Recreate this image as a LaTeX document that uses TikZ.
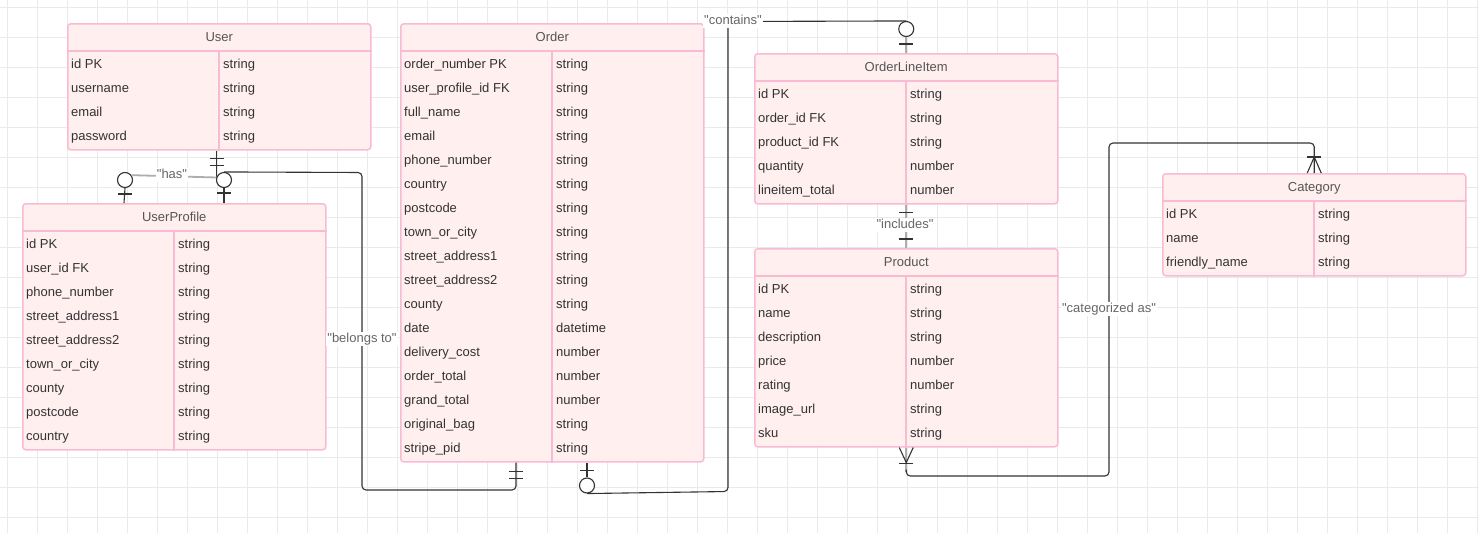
\documentclass[tikz,border=0pt]{standalone}
\usepackage{fontspec}
\setmainfont{Liberation Sans}
\usetikzlibrary{calc}

\definecolor{entityfill}{HTML}{FFEFEF}
\definecolor{entityline}{HTML}{F8BBD3}
\definecolor{gridgray}{HTML}{EAEAEA}
\definecolor{linkdark}{HTML}{333333}
\definecolor{linkgray}{HTML}{ADADAD}
\definecolor{labelgray}{HTML}{666666}
\definecolor{titlegray}{HTML}{555555}
\definecolor{fieldgray}{HTML}{333333}

\tikzset{
  entitybox/.style={draw=entityline, fill=entityfill, line width=1.5pt, rounded corners=3pt, minimum width=303pt, inner sep=0pt},
  divider/.style={draw=entityline, line width=1.2pt},
  fieldtext/.style={anchor=west, inner sep=0pt, text=fieldgray, font=\fontsize{13}{15}\selectfont, text height=9.5pt, text depth=3pt},
  titletext/.style={inner sep=0pt, text=titlegray, font=\fontsize{13}{15}\selectfont, text height=9.5pt, text depth=3pt},
  gridline/.style={draw=gridgray, line width=0.8pt},
  relline/.style={draw=linkdark, line width=1.1pt, rounded corners=4pt},
  graylink/.style={draw=linkgray, line width=1.8pt},
  endmark/.style={draw=linkdark, line width=1.1pt},
  ocircle/.style={circle, draw=linkdark, fill=white, line width=1.1pt, minimum size=15pt, inner sep=0pt},
  reltext/.style={fill=white, inner sep=1pt, text=labelgray, font=\fontsize{13}{15}\selectfont, text height=9.5pt, text depth=3pt}
}

% straight quotes round a relation label
\newcommand{\rellabel}[1]{\textquotedbl#1\textquotedbl}

% entity box: name, left, top, title, number of rows, rows field/type
\newcommand{\erentity}[6]{%
  \node[entitybox, minimum height={30+24*#5}, anchor=north west] (#1) at (#2,#3) {};
  \draw[divider] ($(#1.north west)+(0,28)$) -- ($(#1.north east)+(0,28)$);
  \draw[divider] ($(#1.north west)+(152,28)$) -- ($(#1.south west)+(152,0)$);
  \node[titletext] (#1-title) at ($(#1.north)+(0,15.5)$) {#4};
  \foreach \field/\type [count=\k] in {#6} {
    \node[fieldtext] (#1-\k) at ($(#1.north west)+(4,18+24*\k)$) {\field};
    \node[fieldtext] (#1-\k-type) at ($(#1.north west)+(156,18+24*\k)$) {\type};
  }
}

\begin{document}
\begin{tikzpicture}[x=1pt, y=-1pt]
  \useasboundingbox (0,0) rectangle (1478,533);
  \fill[white] (0,0) rectangle (1478,533);

  % background grid
  \foreach \gx in {7,37,...,1477} \draw[gridline] (\gx,0) -- (\gx,533);
  \foreach \gy in {7,37,...,527} \draw[gridline] (0,\gy) -- (1478,\gy);

  % entities
  \erentity{user}{67}{23}{User}{4}{id PK/string, username/string, email/string, password/string}
  \erentity{profile}{22}{203}{UserProfile}{9}{id PK/string, user\_id FK/string, phone\_number/string, street\_address1/string, street\_address2/string, town\_or\_city/string, county/string, postcode/string, country/string}
  \erentity{order}{400}{23}{Order}{17}{order\_number PK/string, user\_profile\_id FK/string, full\_name/string, email/string, phone\_number/string, country/string, postcode/string, town\_or\_city/string, street\_address1/string, street\_address2/string, county/string, date/datetime, delivery\_cost/number, order\_total/number, grand\_total/number, original\_bag/string, stripe\_pid/string}
  \erentity{item}{754}{53}{OrderLineItem}{5}{id PK/string, order\_id FK/string, product\_id FK/string, quantity/number, lineitem\_total/number}
  \erentity{product}{754}{248}{Product}{7}{id PK/string, name/string, description/string, price/number, rating/number, image\_url/string, sku/string}
  \erentity{category}{1162}{173}{Category}{3}{id PK/string, name/string, friendly\_name/string}

  % "has": User to UserProfile
  \coordinate (has-user) at ($(user.south)+(-2.5,0)$);
  \coordinate (has-profile) at ($(profile.north west)+(102,0)$);
  \node[ocircle] (has-o) at ($(has-profile)+(1,-23)$) {};
  \draw[relline] (has-user) -- ++(0,27) coordinate (has-bend);
  \draw[graylink] (has-bend) -- (has-o.37);
  \draw[relline] (has-o.south) -- (has-profile);
  \draw[endmark] ($(has-user)+(-7,8)$) -- ++(14,0);
  \draw[endmark] ($(has-user)+(-7,15)$) -- ++(14,0);
  \draw[endmark] ($(has-profile)+(-6,-9)$) -- ++(14,0);
  \node[reltext] (has-label) at (172,175) {\rellabel{has}};

  % "belongs to": UserProfile to Order
  \coordinate (belongs-profile) at ($(profile.north west)+(202,0)$);
  \coordinate (belongs-order) at ($(order.south west)+(116,0)$);
  \node[ocircle] (belongs-o) at ($(belongs-profile)+(0,-23)$) {};
  \draw[relline] (belongs-profile) -- (belongs-o.south);
  \draw[relline] (belongs-o.north) -- (362,172.5) -- (362,490) -| (belongs-order);
  \draw[endmark] ($(belongs-profile)+(-7,-10)$) -- ++(14,0);
  \draw[endmark] ($(belongs-order)+(-7,9)$) -- ++(14,0);
  \draw[endmark] ($(belongs-order)+(-7,16)$) -- ++(14,0);
  \node[reltext] (belongs-label) at (362,339) {\rellabel{belongs to}};

  % "contains": Order to OrderLineItem
  \coordinate (contains-order) at ($(order.south west)+(187,0)$);
  \coordinate (contains-item) at (item.north);
  \node[ocircle] (contains-o1) at ($(contains-order)+(0,23)$) {};
  \node[ocircle] (contains-o2) at ($(contains-item)+(0,-24)$) {};
  \draw[relline] (contains-order) -- (contains-o1.north);
  \draw[relline] (contains-o1.south) -- (728,491.5) -- (728,21.5) -- (contains-o2.north);
  \draw[graylink] (contains-o2.south) -- (contains-item);
  \draw[endmark] ($(contains-order)+(-7,8)$) -- ++(14,0);
  \draw[endmark] ($(contains-item)+(-7,-9)$) -- ++(14,0);
  \node[reltext] (contains-label) at (733,21) {\rellabel{contains}};

  % "includes": OrderLineItem to Product
  \draw[graylink] (item.south) -- (product.north);
  \draw[endmark] ($(item.south)+(-7,8)$) -- ++(14,0);
  \draw[endmark] ($(product.north)+(-7,-9)$) -- ++(14,0);
  \node[reltext] (includes-label) at (905,225) {\rellabel{includes}};

  % "categorized as": Product to Category
  \coordinate (cat-product) at (product.south);
  \coordinate (cat-category) at (category.north);
  \draw[graylink] (cat-product) -- ++(0,24);
  \draw[relline] ($(cat-product)+(0,22)$) |- (1109,476) -- (1109,143) -| (cat-category);
  \draw[endmark] ($(cat-product)+(-7,0)$) -- ($(cat-product)+(0,15)$) -- ($(cat-product)+(7,0)$);
  \draw[endmark] ($(cat-product)+(-7,16)$) -- ++(14,0);
  \draw[endmark] ($(cat-category)+(-7,0)$) -- ($(cat-category)+(0,-16)$) -- ($(cat-category)+(7,0)$);
  \draw[endmark] ($(cat-category)+(-7,-16)$) -- ++(14,0);
  \node[reltext] (cat-label) at (1109,309) {\rellabel{categorized as}};
\end{tikzpicture}
\end{document}
